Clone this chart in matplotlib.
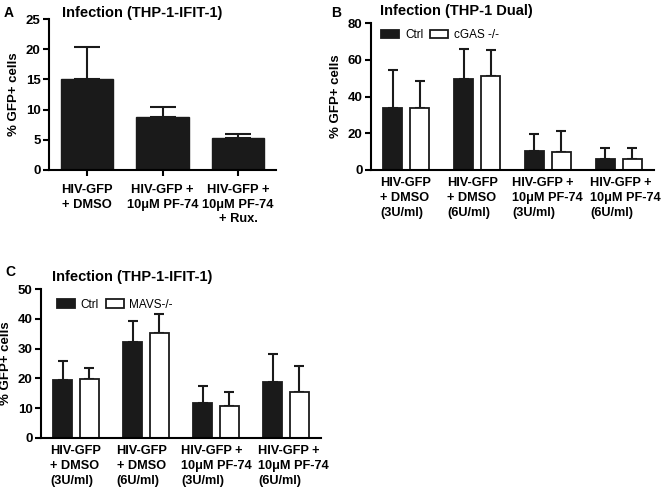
import matplotlib
matplotlib.use('Agg')
import matplotlib.pyplot as plt
import numpy as np

plt.rcParams['font.family'] = ['Liberation Sans', 'DejaVu Sans']

# Panel A data
a_labels = ['HIV-GFP\n+ DMSO', 'HIV-GFP +\n10μM PF-74', 'HIV-GFP +\n10μM PF-74\n+ Rux.']
a_mean = [15.0, 8.7, 5.3]
a_err = [5.4, 1.8, 0.6]

# Panel B / C data
grp_labels = ['HIV-GFP\n+ DMSO\n(3U/ml)', 'HIV-GFP\n+ DMSO\n(6U/ml)',
              'HIV-GFP +\n10μM PF-74\n(3U/ml)', 'HIV-GFP +\n10μM PF-74\n(6U/ml)']
b_ctrl = [33.5, 49.3, 10.2, 6.1]
b_ctrl_err = [21.0, 16.5, 9.4, 5.7]
b_cgas = [34.0, 51.0, 9.8, 6.1]
b_cgas_err = [14.2, 14.2, 11.2, 5.7]

c_ctrl = [19.6, 32.3, 11.7, 18.8]
c_ctrl_err = [6.1, 7.1, 5.6, 9.4]
c_mavs = [19.8, 35.1, 10.6, 15.5]
c_mavs_err = [3.6, 6.5, 4.8, 8.5]

# left edge of each group label (labels are placed by hand in the original)
label_left = [-0.37, 0.58, 1.50, 2.60]

W, H = 663, 491
fig = plt.figure(figsize=(W / 100, H / 100), dpi=100)

def px_axes(x0, y_top, x1, y_bot):
    return fig.add_axes([x0 / W, 1 - y_bot / H, (x1 - x0) / W, (y_bot - y_top) / H])

def style(ax, ymax, step):
    for s in ['top', 'right']:
        ax.spines[s].set_visible(False)
    for s in ['left', 'bottom']:
        ax.spines[s].set_linewidth(1.5)
    ax.set_ylim(0, ymax)
    ax.set_yticks(np.arange(0, ymax + 1, step))
    ax.tick_params(axis='both', width=1.5, length=4, labelsize=9.5, pad=2)
    ax.tick_params(axis='x', pad=6)
    for t in ax.get_yticklabels():
        t.set_fontweight('bold')
    ax.set_ylabel('% GFP+ cells', fontsize=9.5, fontweight='bold', labelpad=4)

def upper_err(ax, x, vals, errs, cap):
    ax.errorbar(x, vals, yerr=[np.zeros(len(vals)), errs], fmt='none',
                ecolor='#1a1a1a', elinewidth=1.5, capsize=cap, capthick=1.5, zorder=1)

# ---- A ----
axA = px_axes(49, 19, 276, 170)
xa = np.arange(len(a_mean))
upper_err(axA, xa, a_mean, a_err, 9.5)
axA.bar(xa, a_mean, width=0.69, color='#1a1a1a', edgecolor='#1a1a1a', zorder=2)
axA.set_xlim(-0.5, 2.5)
style(axA, 25, 5)
axA.set_xticks(xa)
axA.set_xticklabels(a_labels, fontsize=9.3, fontweight='bold', linespacing=1.3)

# ---- B / C ----
def grouped(ax, ctrl, ctrl_err, ko, ko_err, ymax, step, ko_name, leg_anchor):
    xg = np.arange(len(ctrl))
    off, bw = 0.19, 0.27
    upper_err(ax, xg - off, ctrl, ctrl_err, 3.4)
    upper_err(ax, xg + off, ko, ko_err, 3.4)
    ax.bar(xg - off, ctrl, width=bw, color='#1a1a1a', edgecolor='#1a1a1a',
           linewidth=1.3, zorder=2, label='Ctrl')
    ax.bar(xg + off, ko, width=bw, color='white', edgecolor='#1a1a1a',
           linewidth=1.3, zorder=2, label=ko_name)
    ax.set_xlim(-0.5, 3.5)
    style(ax, ymax, step)
    ax.tick_params(axis='x', length=0, pad=5)
    ax.set_xticks(label_left)
    ax.set_xticklabels(grp_labels, fontsize=9.2, fontweight='bold',
                       linespacing=1.32, ha='left', multialignment='left')
    ax.legend(loc='upper left', bbox_to_anchor=leg_anchor, ncol=2, frameon=False,
              fontsize=8.5, handlelength=1.5, handleheight=0.75, handletextpad=0.5,
              columnspacing=0.6, borderaxespad=0)

axB = px_axes(371, 23, 654, 170)
grouped(axB, b_ctrl, b_ctrl_err, b_cgas, b_cgas_err, 80, 20, 'cGAS -/-', (0.02, 0.99))

axC = px_axes(41, 289, 321, 438)
grouped(axC, c_ctrl, c_ctrl_err, c_mavs, c_mavs_err, 50, 10, 'MAVS-/-', (0.04, 0.965))

# titles and panel letters
def ftext(x, y, s, size, **kw):
    fig.text(x / W, 1 - y / H, s, fontsize=size, fontweight='bold', va='center', **kw)

ftext(62, 13, 'Infection (THP-1-IFIT-1)', 10.5)
ftext(380, 11, 'Infection (THP-1 Dual)', 10.5)
ftext(52, 277, 'Infection (THP-1-IFIT-1)', 10.5)
ftext(4, 13, 'A', 10)
ftext(331, 13, 'B', 10)
ftext(5, 272, 'C', 10)

fig.savefig('out.png', dpi=100)
